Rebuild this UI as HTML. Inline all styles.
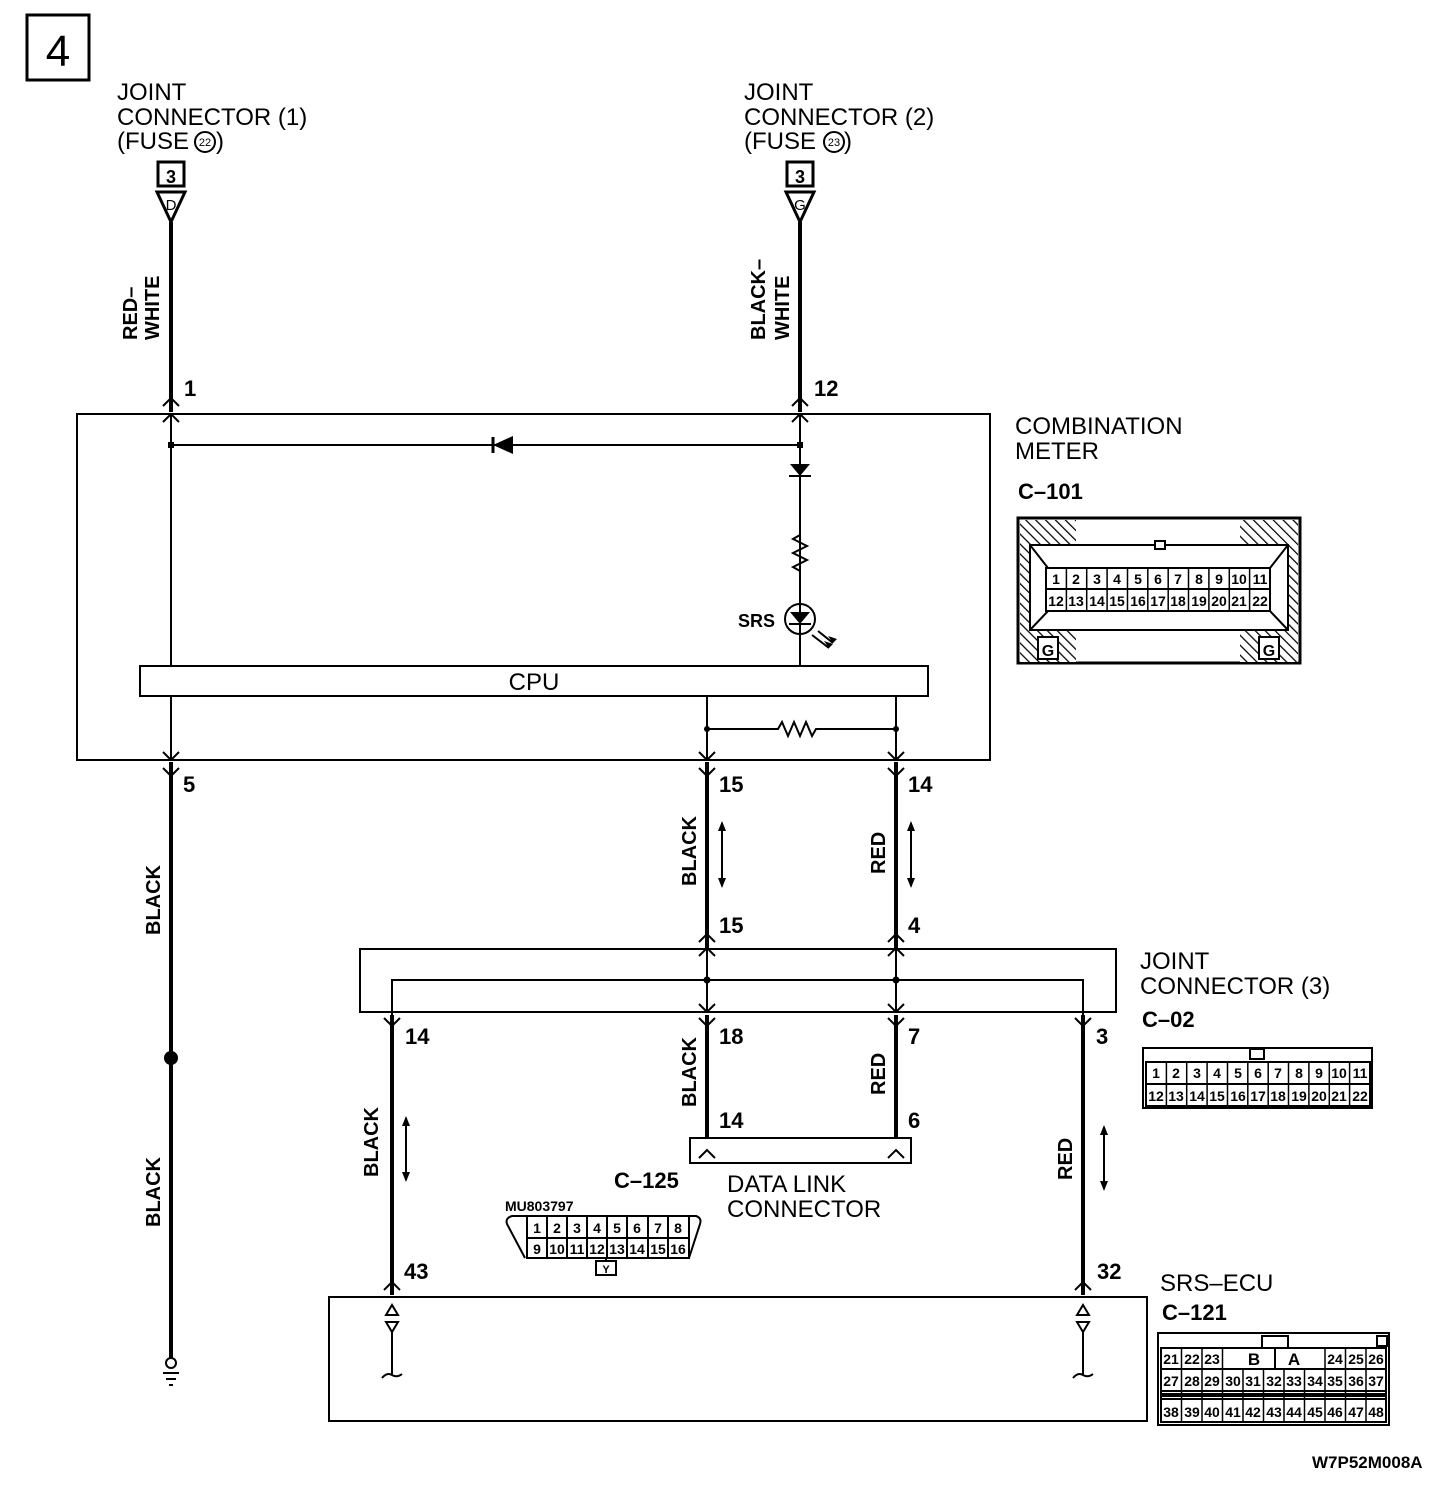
<!DOCTYPE html>
<html><head><meta charset="utf-8"><style>
html,body{margin:0;padding:0;background:#fff}
svg{display:block}
text{font-family:"Liberation Sans",sans-serif;fill:#000}
.l{font-size:24px}
.b{font-size:22px;font-weight:bold}
.s{font-size:15px;font-weight:bold}
.w{font-size:20px;font-weight:bold}
</style></head><body>
<svg width="1456" height="1488" viewBox="0 0 1456 1488" xmlns="http://www.w3.org/2000/svg">
<defs>
<pattern id="h" width="7" height="7" patternUnits="userSpaceOnUse" patternTransform="rotate(-45)"><rect width="7" height="7" fill="#fff"/><line x1="0" y1="0" x2="0" y2="7" stroke="#000" stroke-width="2.5"/></pattern>
</defs>
<g fill="none" stroke="#000">
<rect x="27" y="15" width="62" height="65" stroke-width="3"/>
</g>
<text x="58" y="66" text-anchor="middle" style="font-size:44px">4</text>

<!-- top labels -->
<text class="l" x="117" y="100">JOINT</text>
<text class="l" x="117" y="125">CONNECTOR (1)</text>
<text class="l" x="117" y="149">(FUSE</text>
<text class="l" x="216" y="149">)</text>
<text x="205" y="146" text-anchor="middle" style="font-size:11px">22</text>
<text class="l" x="744" y="100">JOINT</text>
<text class="l" x="744" y="125">CONNECTOR (2)</text>
<text class="l" x="744" y="149">(FUSE</text>
<text class="l" x="844" y="149">)</text>
<text x="834" y="146" text-anchor="middle" style="font-size:11px">23</text>
<circle cx="205" cy="142" r="10" fill="none" stroke="#000" stroke-width="2"/>
<circle cx="834" cy="142" r="10" fill="none" stroke="#000" stroke-width="2"/>

<!-- fuse tags -->
<g fill="none" stroke="#000" stroke-width="3">
<rect x="158" y="162" width="26" height="24"/>
<path d="M157 192 L185 192 L171 222 Z"/>
<rect x="787" y="162" width="26" height="24"/>
<path d="M786 192 L814 192 L800 222 Z"/>
</g>
<text x="171" y="183" text-anchor="middle" class="b" style="font-size:18px">3</text>
<text x="171" y="210" text-anchor="middle" style="font-size:15px">D</text>
<text x="800" y="183" text-anchor="middle" class="b" style="font-size:18px">3</text>
<text x="800" y="210" text-anchor="middle" style="font-size:15px">G</text>

<!-- thick wires -->
<g stroke="#000" stroke-width="4" fill="none">
<line x1="171" y1="222" x2="171" y2="412"/>
<line x1="800" y1="222" x2="800" y2="412"/>
<line x1="171" y1="762" x2="171" y2="1358"/>
<line x1="707" y1="762" x2="707" y2="948"/>
<line x1="896" y1="762" x2="896" y2="948"/>
<line x1="392" y1="1015" x2="392" y2="1295"/>
<line x1="707" y1="1015" x2="707" y2="1138"/>
<line x1="896" y1="1015" x2="896" y2="1138"/>
<line x1="1083" y1="1015" x2="1083" y2="1295"/>
</g>
<circle cx="171" cy="1058" r="7" fill="#000"/>

<!-- ground -->
<g stroke="#000" stroke-width="2" fill="none">
<circle cx="171" cy="1363" r="5"/>
<line x1="163" y1="1373" x2="179" y2="1373"/>
<line x1="166" y1="1379" x2="176" y2="1379"/>
<line x1="169" y1="1385" x2="173" y2="1385"/>
</g>

<!-- combination meter box -->
<g stroke="#000" stroke-width="2" fill="none">
<rect x="77" y="414" width="913" height="346"/>
<line x1="171" y1="414" x2="171" y2="666"/>
<line x1="171" y1="445" x2="800" y2="445"/>
<line x1="800" y1="414" x2="800" y2="666"/>
<rect x="140" y="666" width="788" height="30"/>
<line x1="171" y1="696" x2="171" y2="760"/>
<line x1="707" y1="696" x2="707" y2="760"/>
<line x1="896" y1="696" x2="896" y2="760"/>
<polyline points="707,729 778,729 782,722 788,736 794,722 800,736 806,722 812,736 816,729 896,729"/>
<polyline points="800,535 793,539 807,546 793,553 807,560 793,567 800,571"/>
<circle cx="800" cy="619" r="15"/>
<line x1="789" y1="624" x2="811" y2="624"/>
<line x1="812" y1="635" x2="829" y2="648"/>
<line x1="818" y1="631" x2="833" y2="643"/>
<line x1="493" y1="437" x2="493" y2="453" stroke-width="3"/>
<line x1="789" y1="476" x2="811" y2="476" stroke-width="2"/>
</g>
<path d="M493 445 L513 436 L513 454 Z" fill="#000"/>
<path d="M790 464 L810 464 L800 476 Z" fill="#000"/>
<path d="M790 612 L810 612 L800 624 Z" fill="#000"/>
<path d="M829 648 L824 641 L833 644 Z M833 643 L828 636 L837 639Z" fill="#000"/>
<rect x="168" y="442" width="6" height="6" fill="#000"/>
<rect x="797" y="442" width="6" height="6" fill="#000"/>
<circle cx="707" cy="729" r="3" fill="#000"/>
<circle cx="896" cy="729" r="3" fill="#000"/>
<text x="534" y="690" text-anchor="middle" class="l">CPU</text>
<text x="738" y="627" class="s" style="font-size:18px">SRS</text>

<!-- chevrons (pin arrows) -->
<g stroke="#000" stroke-width="2" fill="none">
<polyline points="163,406 171,398 179,406"/><polyline points="163,422 171,414 179,422"/>
<polyline points="792,406 800,398 808,406"/><polyline points="792,422 800,414 808,422"/>
<polyline points="163,752 171,760 179,752"/><polyline points="163,768 171,776 179,768"/>
<polyline points="699,752 707,760 715,752"/><polyline points="699,768 707,776 715,768"/>
<polyline points="888,752 896,760 904,752"/><polyline points="888,768 896,776 904,768"/>
<polyline points="699,942 707,934 715,942"/><polyline points="699,956 707,948 715,956"/>
<polyline points="888,942 896,934 904,942"/><polyline points="888,956 896,948 904,956"/>
<polyline points="384,1018 392,1026 400,1018"/>
<polyline points="699,1004 707,1012 715,1004"/><polyline points="699,1018 707,1026 715,1018"/>
<polyline points="888,1004 896,1012 904,1004"/><polyline points="888,1018 896,1026 904,1018"/>
<polyline points="1075,1018 1083,1026 1091,1018"/>
<polyline points="699,1158 707,1150 715,1158"/>
<polyline points="888,1158 896,1150 904,1158"/>
<polyline points="384,1290 392,1282 400,1290"/>
<polyline points="1075,1290 1083,1282 1091,1290"/>
<rect x="360" y="949" width="756" height="63"/>
<polyline points="392,1020 392,980 1083,980 1083,1020"/>
<line x1="707" y1="949" x2="707" y2="1012"/>
<line x1="896" y1="949" x2="896" y2="1012"/>
<rect x="690" y="1138" width="221" height="25"/>
<rect x="329" y="1297" width="818" height="124"/>
<path d="M386 1315 L398 1315 L392 1305 Z"/><path d="M386 1322 L398 1322 L392 1332 Z"/>
<line x1="392" y1="1332" x2="392" y2="1374"/><path d="M382 1378 Q387 1372 392 1375 Q397 1378 402 1374"/>
<path d="M1077 1315 L1089 1315 L1083 1305 Z"/><path d="M1077 1322 L1089 1322 L1083 1332 Z"/>
<line x1="1083" y1="1332" x2="1083" y2="1374"/><path d="M1073 1378 Q1078 1372 1083 1375 Q1088 1378 1093 1374"/>
<line x1="722" y1="823" x2="722" y2="886"/>
<line x1="911" y1="823" x2="911" y2="886"/>
<line x1="406" y1="1118" x2="406" y2="1180"/>
<line x1="1104" y1="1127" x2="1104" y2="1189"/>
</g>
<circle cx="707" cy="980" r="3.5" fill="#000"/>
<circle cx="896" cy="980" r="3.5" fill="#000"/>
<g fill="#000">
<path d="M718 831 L722 821 L726 831Z M718 878 L722 888 L726 878Z"/>
<path d="M907 831 L911 821 L915 831Z M907 878 L911 888 L915 878Z"/>
<path d="M402 1126 L406 1116 L410 1126Z M402 1172 L406 1182 L410 1172Z"/>
<path d="M1100 1135 L1104 1125 L1108 1135Z M1100 1181 L1104 1191 L1108 1181Z"/>
</g>

<!-- pin numbers -->
<g class="b">
<text x="184" y="396">1</text>
<text x="814" y="396">12</text>
<text x="183" y="792">5</text>
<text x="719" y="792">15</text>
<text x="908" y="792">14</text>
<text x="719" y="933">15</text>
<text x="908" y="933">4</text>
<text x="405" y="1044">14</text>
<text x="719" y="1044">18</text>
<text x="908" y="1044">7</text>
<text x="1096" y="1044">3</text>
<text x="719" y="1128">14</text>
<text x="908" y="1128">6</text>
<text x="404" y="1279">43</text>
<text x="1097" y="1279">32</text>
</g>

<g class="w">
<text transform="translate(137,340) rotate(-90)">RED–</text>
<text transform="translate(159,340) rotate(-90)">WHITE</text>
<text transform="translate(765,340) rotate(-90)">BLACK–</text>
<text transform="translate(789,340) rotate(-90)">WHITE</text>
<text transform="translate(160,935) rotate(-90)">BLACK</text>
<text transform="translate(160,1227) rotate(-90)">BLACK</text>
<text transform="translate(696,886) rotate(-90)">BLACK</text>
<text transform="translate(885,874) rotate(-90)">RED</text>
<text transform="translate(696,1107) rotate(-90)">BLACK</text>
<text transform="translate(885,1095) rotate(-90)">RED</text>
<text transform="translate(378,1177) rotate(-90)">BLACK</text>
<text transform="translate(1072,1180) rotate(-90)">RED</text>
</g>

<text class="l" x="1015" y="434">COMBINATION</text>
<text class="l" x="1015" y="459">METER</text>
<text class="b" x="1018" y="499">C–101</text>
<text class="l" x="1140" y="969">JOINT</text>
<text class="l" x="1140" y="994">CONNECTOR (3)</text>
<text class="b" x="1142" y="1027">C–02</text>
<text class="l" x="727" y="1192">DATA LINK</text>
<text class="l" x="727" y="1217">CONNECTOR</text>
<text class="b" x="614" y="1188">C–125</text>
<text class="l" x="1160" y="1291">SRS–ECU</text>
<text class="b" x="1162" y="1320">C–121</text>
<text class="b" x="1312" y="1468" style="font-size:17px">W7P52M008A</text>

<!-- C-101 connector -->
<g stroke="#000" stroke-width="2">
<rect x="1018" y="518" width="282" height="145" fill="#fff" stroke-width="3"/>
<rect x="1020" y="520" width="56" height="142" fill="url(#h)" stroke="none"/>
<rect x="1240" y="520" width="58" height="142" fill="url(#h)" stroke="none"/>
<path d="M1030 545 L1288 545 L1288 630 L1030 630 Z" fill="#fff"/>
<path d="M1030 545 L1048 568 L1270 568 L1288 545 M1030 630 L1048 611 L1270 611 L1288 630" fill="none"/>
<rect x="1155" y="541" width="10" height="8" fill="#fff"/>
<rect x="1038" y="637" width="20" height="22" fill="#fff"/>
<rect x="1259" y="637" width="20" height="22" fill="#fff"/>
<rect x="1046" y="568" width="224" height="43" fill="#fff"/>
<line x1="1046" y1="589" x2="1270" y2="589"/>
</g>
<text x="1048" y="656" text-anchor="middle" class="s" style="font-size:16px">G</text>
<text x="1269" y="656" text-anchor="middle" class="s" style="font-size:16px">G</text>
<g stroke="#000" stroke-width="1.5">
<line x1="1066.4" y1="568" x2="1066.4" y2="611"/><line x1="1086.7" y1="568" x2="1086.7" y2="611"/><line x1="1107.1" y1="568" x2="1107.1" y2="611"/><line x1="1127.5" y1="568" x2="1127.5" y2="611"/><line x1="1147.8" y1="568" x2="1147.8" y2="611"/><line x1="1168.2" y1="568" x2="1168.2" y2="611"/><line x1="1188.5" y1="568" x2="1188.5" y2="611"/><line x1="1208.9" y1="568" x2="1208.9" y2="611"/><line x1="1229.3" y1="568" x2="1229.3" y2="611"/><line x1="1249.6" y1="568" x2="1249.6" y2="611"/>
</g>
<g class="s" text-anchor="middle" style="font-size:14px">
<text x="1056" y="584">1</text><text x="1076" y="584">2</text><text x="1097" y="584">3</text><text x="1117" y="584">4</text><text x="1138" y="584">5</text><text x="1158" y="584">6</text><text x="1178" y="584">7</text><text x="1199" y="584">8</text><text x="1219" y="584">9</text><text x="1239" y="584">10</text><text x="1260" y="584">11</text>
<text x="1056" y="606">12</text><text x="1076" y="606">13</text><text x="1097" y="606">14</text><text x="1117" y="606">15</text><text x="1138" y="606">16</text><text x="1158" y="606">17</text><text x="1178" y="606">18</text><text x="1199" y="606">19</text><text x="1219" y="606">20</text><text x="1239" y="606">21</text><text x="1260" y="606">22</text>
</g>

<!-- C-02 connector -->
<g stroke="#000" stroke-width="2" fill="#fff">
<rect x="1143" y="1048" width="229" height="60"/>
<rect x="1250" y="1049" width="14" height="10"/>
<rect x="1146" y="1062" width="224" height="44"/>
<line x1="1146" y1="1084" x2="1370" y2="1084"/>
</g>
<g stroke="#000" stroke-width="1.5">
<line x1="1166.4" y1="1062" x2="1166.4" y2="1106"/><line x1="1186.7" y1="1062" x2="1186.7" y2="1106"/><line x1="1207.1" y1="1062" x2="1207.1" y2="1106"/><line x1="1227.5" y1="1062" x2="1227.5" y2="1106"/><line x1="1247.8" y1="1062" x2="1247.8" y2="1106"/><line x1="1268.2" y1="1062" x2="1268.2" y2="1106"/><line x1="1288.5" y1="1062" x2="1288.5" y2="1106"/><line x1="1308.9" y1="1062" x2="1308.9" y2="1106"/><line x1="1329.3" y1="1062" x2="1329.3" y2="1106"/><line x1="1349.6" y1="1062" x2="1349.6" y2="1106"/>
</g>
<g class="s" text-anchor="middle" style="font-size:14px">
<text x="1156" y="1078">1</text><text x="1176" y="1078">2</text><text x="1197" y="1078">3</text><text x="1217" y="1078">4</text><text x="1238" y="1078">5</text><text x="1258" y="1078">6</text><text x="1278" y="1078">7</text><text x="1299" y="1078">8</text><text x="1319" y="1078">9</text><text x="1339" y="1078">10</text><text x="1360" y="1078">11</text>
<text x="1156" y="1101">12</text><text x="1176" y="1101">13</text><text x="1197" y="1101">14</text><text x="1217" y="1101">15</text><text x="1238" y="1101">16</text><text x="1258" y="1101">17</text><text x="1278" y="1101">18</text><text x="1299" y="1101">19</text><text x="1319" y="1101">20</text><text x="1339" y="1101">21</text><text x="1360" y="1101">22</text>
</g>

<!-- C-125 connector -->
<text x="505" y="1211" class="s" style="font-size:14px">MU803797</text>
<g stroke="#000" stroke-width="2" fill="none">
<path d="M527 1216 L512 1216 Q505 1218 507 1224 L525 1258 M689 1216 L696 1216 Q702 1218 700 1224 L689 1258"/>
<rect x="527" y="1216" width="162" height="42"/>
<line x1="527" y1="1238" x2="689" y2="1238"/>
<rect x="596" y="1261" width="20" height="14"/>
<line x1="606" y1="1258" x2="606" y2="1261"/>
<line x1="547" y1="1216" x2="547" y2="1258"/><line x1="567" y1="1216" x2="567" y2="1258"/><line x1="587" y1="1216" x2="587" y2="1258"/><line x1="607" y1="1216" x2="607" y2="1258"/><line x1="627" y1="1216" x2="627" y2="1258"/><line x1="648" y1="1216" x2="648" y2="1258"/><line x1="668" y1="1216" x2="668" y2="1258"/>
</g>
<g class="s" text-anchor="middle" style="font-size:14px">
<text x="537" y="1233">1</text><text x="557" y="1233">2</text><text x="577" y="1233">3</text><text x="597" y="1233">4</text><text x="617" y="1233">5</text><text x="637" y="1233">6</text><text x="658" y="1233">7</text><text x="678" y="1233">8</text>
<text x="537" y="1254">9</text><text x="557" y="1254">10</text><text x="577" y="1254">11</text><text x="597" y="1254">12</text><text x="617" y="1254">13</text><text x="637" y="1254">14</text><text x="658" y="1254">15</text><text x="678" y="1254">16</text>
<text x="606" y="1273" style="font-size:11px">Y</text>
</g>

<!-- C-121 connector -->
<g stroke="#000" stroke-width="2" fill="#fff">
<rect x="1158" y="1333" width="231" height="92"/>
<rect x="1262" y="1336" width="26" height="12"/>
<rect x="1377" y="1336" width="10" height="10"/>
<rect x="1161" y="1348" width="225" height="74"/>
<line x1="1161" y1="1369" x2="1386" y2="1369"/>
<line x1="1161" y1="1391" x2="1386" y2="1391"/>
<line x1="1161" y1="1399" x2="1386" y2="1399"/>
<line x1="1275" y1="1348" x2="1275" y2="1369"/>
</g>
<rect x="1161" y="1393" width="225" height="4" fill="#000"/>
<g stroke="#000" stroke-width="1.5">
<line x1="1181.5" y1="1348" x2="1181.5" y2="1369"/><line x1="1202" y1="1348" x2="1202" y2="1369"/><line x1="1222.5" y1="1348" x2="1222.5" y2="1369"/><line x1="1325" y1="1348" x2="1325" y2="1369"/><line x1="1345.5" y1="1348" x2="1345.5" y2="1369"/><line x1="1366" y1="1348" x2="1366" y2="1369"/>
<line x1="1181.5" y1="1369" x2="1181.5" y2="1422"/><line x1="1202" y1="1369" x2="1202" y2="1422"/><line x1="1222.5" y1="1369" x2="1222.5" y2="1422"/><line x1="1243" y1="1369" x2="1243" y2="1422"/><line x1="1263.5" y1="1369" x2="1263.5" y2="1422"/><line x1="1284" y1="1369" x2="1284" y2="1422"/><line x1="1304.5" y1="1369" x2="1304.5" y2="1422"/><line x1="1325" y1="1369" x2="1325" y2="1422"/><line x1="1345.5" y1="1369" x2="1345.5" y2="1422"/><line x1="1366" y1="1369" x2="1366" y2="1422"/>
</g>
<g class="s" text-anchor="middle" style="font-size:14px">
<text x="1171" y="1364">21</text><text x="1192" y="1364">22</text><text x="1212" y="1364">23</text><text x="1254" y="1365" style="font-size:17px">B</text><text x="1294" y="1365" style="font-size:17px">A</text><text x="1335" y="1364">24</text><text x="1356" y="1364">25</text><text x="1376" y="1364">26</text>
<text x="1171" y="1386">27</text><text x="1192" y="1386">28</text><text x="1212" y="1386">29</text><text x="1233" y="1386">30</text><text x="1253" y="1386">31</text><text x="1274" y="1386">32</text><text x="1294" y="1386">33</text><text x="1315" y="1386">34</text><text x="1335" y="1386">35</text><text x="1356" y="1386">36</text><text x="1376" y="1386">37</text>
<text x="1171" y="1417">38</text><text x="1192" y="1417">39</text><text x="1212" y="1417">40</text><text x="1233" y="1417">41</text><text x="1253" y="1417">42</text><text x="1274" y="1417">43</text><text x="1294" y="1417">44</text><text x="1315" y="1417">45</text><text x="1335" y="1417">46</text><text x="1356" y="1417">47</text><text x="1376" y="1417">48</text>
</g>
</svg>
</body></html>
